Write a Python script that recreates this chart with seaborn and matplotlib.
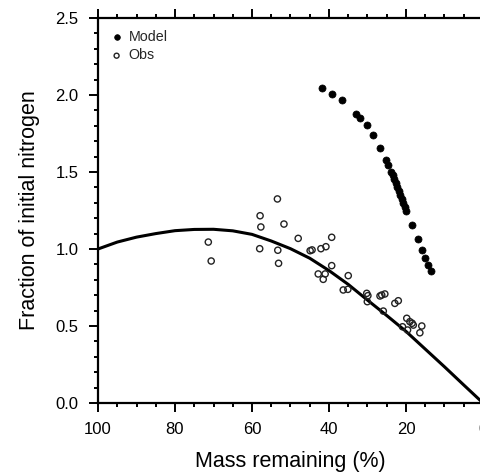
import matplotlib
matplotlib.use("Agg")
import matplotlib.pyplot as plt
import seaborn as sns
import pandas as pd
from matplotlib.ticker import MultipleLocator

# ---- data ----
model_x = [41.9, 39.2, 36.7, 33.0, 31.9, 30.2, 28.6, 26.75, 25.2, 24.6, 23.9, 23.5,
           23.1, 22.7, 22.3, 21.9, 21.5, 21.1, 20.7, 20.3, 19.9, 18.4, 16.8, 15.9,
           15.1, 14.2, 13.5]
model_y = [2.047, 2.008, 1.966, 1.879, 1.853, 1.805, 1.740, 1.654, 1.578, 1.545, 1.502,
           1.478, 1.452, 1.428, 1.402, 1.378, 1.352, 1.325, 1.300, 1.275, 1.250, 1.156,
           1.065, 0.994, 0.940, 0.896, 0.859]

obs_x = [71.35, 70.6, 57.9, 57.7, 58.0, 53.4, 53.3, 53.1, 51.7, 48.0, 39.3, 44.9, 44.4,
         42.1, 40.8, 39.3, 42.8, 41.0, 41.5, 35.0, 36.3, 35.1, 30.2, 30.05, 29.9, 26.75,
         26.3, 25.5, 22.9, 22.0, 25.9, 19.8, 20.9, 19.6, 19.0, 18.4, 18.1, 15.9, 16.4]
obs_y = [1.045, 0.922, 1.216, 1.143, 1.002, 1.325, 0.992, 0.907, 1.162, 1.069, 1.076,
         0.989, 0.994, 1.002, 1.015, 0.892, 0.838, 0.838, 0.803, 0.827, 0.734, 0.738,
         0.712, 0.658, 0.697, 0.695, 0.701, 0.708, 0.647, 0.664, 0.597, 0.550, 0.495,
         0.474, 0.528, 0.518, 0.506, 0.500, 0.456]

curve_x = [100, 95, 90, 85, 80, 75, 70, 65, 60, 55, 50, 45, 40, 35, 30, 25, 20, 15, 10, 5, 0]
curve_y = [1.00, 1.045, 1.077, 1.10, 1.119, 1.127, 1.128, 1.118, 1.095, 1.052, 1.002,
           0.94, 0.86, 0.77, 0.668, 0.568, 0.465, 0.35, 0.235, 0.117, 0.0]

x_ticks = [100, 80, 60, 40, 20, 0]
y_ticks = [0.0, 0.5, 1.0, 1.5, 2.0, 2.5]

# ---- plotting ----
sns.set_theme(style="white")
plt.rcParams['font.family'] = ['Liberation Sans', 'DejaVu Sans']

fig = plt.figure(figsize=(4.81, 4.76), dpi=100)
ax = fig.add_axes([98 / 481, (476 - 403) / 476, 385 / 481, 385 / 476])

df_curve = pd.DataFrame({"x": curve_x, "y": curve_y})
df_model = pd.DataFrame({"x": model_x, "y": model_y})
df_obs = pd.DataFrame({"x": obs_x, "y": obs_y})

sns.lineplot(data=df_curve, x="x", y="y", ax=ax, color="black", linewidth=2.2,
             legend=False, sort=False)
sns.scatterplot(data=df_model, x="x", y="y", ax=ax, color="black", s=26,
                edgecolor="black", linewidth=0.5, label="Model", zorder=3)
sns.scatterplot(data=df_obs, x="x", y="y", ax=ax, facecolor="none", s=20,
                edgecolor="#222222", linewidth=1.0, marker="o", label="Obs", zorder=3)

ax.set_xlim(100, 0)
ax.set_ylim(0, 2.5)
ax.set_xticks(x_ticks)
ax.set_yticks(y_ticks)
ax.set_xticklabels([str(v) for v in x_ticks])
ax.set_yticklabels([f"{v:.1f}" for v in y_ticks])
ax.xaxis.set_minor_locator(MultipleLocator(5))
ax.yaxis.set_minor_locator(MultipleLocator(0.1))

ax.tick_params(which="both", direction="out", color="black", width=1.4,
               top=True, right=True, bottom=True, left=True,
               labeltop=False, labelright=False)
ax.tick_params(which="major", length=6.5, labelsize=12, labelcolor="black")
ax.tick_params(axis="x", which="major", pad=7.5)
ax.tick_params(axis="y", which="major", pad=7.5)
ax.tick_params(which="minor", length=3.2)

for sp in ax.spines.values():
    sp.set_linewidth(1.6)
    sp.set_color("black")

ax.set_xlabel("Mass remaining (%)", fontsize=15.5, color="black", labelpad=10)
ax.set_ylabel("Fraction of initial nitrogen", fontsize=15.5, color="black", labelpad=11)

leg = ax.legend(loc="upper left", frameon=False, fontsize=10.3, handletextpad=0.4,
                borderaxespad=0.45, labelspacing=0.3, markerscale=0.8,
                borderpad=0.4, handlelength=0.9)

fig.savefig("out.png", dpi=100)
